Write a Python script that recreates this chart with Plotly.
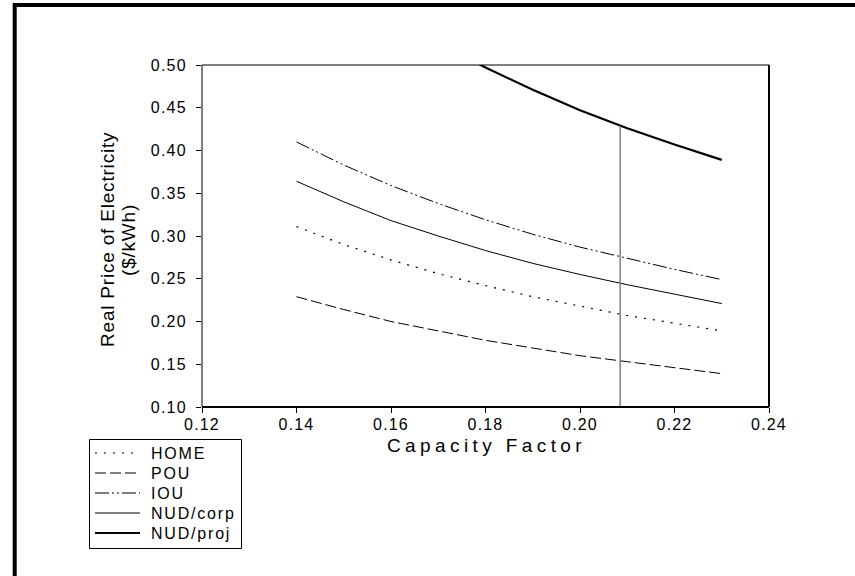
import plotly.graph_objects as go

# ---- data ----
capacity_factor = [0.14, 0.15, 0.16, 0.17, 0.18, 0.19, 0.20, 0.21, 0.22, 0.23]
home = [0.311, 0.290, 0.272, 0.256, 0.242, 0.229, 0.218, 0.207, 0.198, 0.189]
pou = [0.229, 0.214, 0.200, 0.189, 0.178, 0.169, 0.160, 0.153, 0.146, 0.139]
iou = [0.410, 0.383, 0.359, 0.338, 0.319, 0.302, 0.287, 0.274, 0.261, 0.249]
nud_corp = [0.364, 0.340, 0.318, 0.300, 0.283, 0.268, 0.255, 0.243, 0.232, 0.221]
nud_proj = [0.639, 0.597, 0.559, 0.526, 0.497, 0.471, 0.447, 0.426, 0.407, 0.389]
marker_cf = [0.2085, 0.2085]
marker_price = [0.10, 0.429]

series_names = ["HOME", "POU", "IOU", "NUD/corp", "NUD/proj"]
x_ticks = [0.12, 0.14, 0.16, 0.18, 0.20, 0.22, 0.24]
y_ticks = [0.10, 0.15, 0.20, 0.25, 0.30, 0.35, 0.40, 0.45, 0.50]
x_title = "Capacity Factor"
y_title = ["Real Price of Electricity", "($/kWh)"]

FONT = "Liberation Sans, Arial, sans-serif"


def spaced(s, ls):
    return f'<span style="letter-spacing:{ls}px">{s}</span>'


fig = go.Figure()
styles = [
    ("2px,7px", 1.2),
    ("11px,4px", 1.0),
    ("14px,3px,2px,3px,2px,3px", 1.0),
    ("solid", 1.0),
    ("solid", 2.2),
]
for name, vals, (dash, w) in zip(series_names, [home, pou, iou, nud_corp, nud_proj], styles):
    fig.add_trace(go.Scatter(x=capacity_factor, y=vals, mode="lines", name=name, showlegend=False,
                             line=dict(color="black", width=w, dash=dash)))

fig.add_trace(go.Scatter(x=marker_cf, y=marker_price, mode="lines", showlegend=False,
                         line=dict(color="#7f7f7f", width=1.5), hoverinfo="skip"))

W, H = 855, 576
L, R, T, B = 202, 769, 65, 407
pw, ph = R - L, B - T


def px(xp):
    return (xp - L) / pw


def py(yp):
    return 1 - (yp - T) / ph


shapes = [
    dict(type="rect", xref="paper", yref="paper", x0=px(14.7), x1=px(1000), y0=py(800), y1=py(5),
         line=dict(color="black", width=4), layer="above"),
    dict(type="rect", xref="paper", yref="paper", x0=0, x1=1, y0=0, y1=1,
         line=dict(color="black", width=1), layer="above"),
    dict(type="line", xref="paper", yref="paper", x0=1, x1=1, y0=0, y1=1,
         line=dict(color="black", width=2), layer="above"),
    dict(type="line", xref="paper", yref="paper", x0=0, x1=1, y0=0, y1=0,
         line=dict(color="black", width=2), layer="above"),
    # legend box
    dict(type="rect", xref="paper", yref="paper", x0=px(89.5), x1=px(241.5), y0=py(548.5), y1=py(439.5),
         line=dict(color="black", width=1), fillcolor="white", layer="above"),
]
annotations = []
row_y = [453, 473, 493, 513, 533]
for (name, (dash, w), ry) in zip(series_names, styles, row_y):
    shapes.append(dict(type="line", xref="paper", yref="paper", x0=px(95), x1=px(140),
                       y0=py(ry), y1=py(ry), line=dict(color="black", width=w, dash=dash),
                       layer="above"))
    annotations.append(dict(xref="paper", yref="paper", x=px(149), y=py(ry), xanchor="left",
                            yanchor="middle", showarrow=False, text=spaced(name, 1.8),
                            font=dict(family=FONT, size=16, color="black")))

# axis titles
annotations.append(dict(xref="paper", yref="paper", x=px(486), y=py(445), xanchor="center",
                        yanchor="middle", showarrow=False, text=spaced(x_title, 4.4),
                        font=dict(family=FONT, size=19, color="black")))
for t, cx in zip(y_title, [107, 128]):
    annotations.append(dict(xref="paper", yref="paper", x=px(cx), y=py(240), xanchor="center",
                            yanchor="middle", showarrow=False, textangle=-90, text=spaced(t, 0.8),
                            font=dict(family=FONT, size=19, color="black")))

fig.update_layout(
    width=W, height=H,
    margin=dict(l=L, r=W - R, t=T, b=H - B),
    paper_bgcolor="white", plot_bgcolor="white",
    font=dict(family=FONT, color="black", size=16),
    shapes=shapes,
    annotations=annotations,
    showlegend=False,
    xaxis=dict(range=[0.12, 0.24], tickvals=x_ticks,
               ticktext=[spaced(f"{v:.2f}", 1.2) for v in x_ticks],
               showgrid=False, zeroline=False, showline=False,
               ticks="outside", ticklen=5, tickwidth=1, tickcolor="black",
               tickfont=dict(size=16), ticklabelstandoff=-2),
    yaxis=dict(range=[0.10, 0.50], tickvals=y_ticks,
               ticktext=[spaced(f"{v:.2f}", 1.2) for v in y_ticks],
               showgrid=False, zeroline=False, showline=False,
               ticks="outside", ticklen=5, tickwidth=1, tickcolor="black",
               tickfont=dict(size=16), ticklabelstandoff=6),
)

fig.write_html("out.html")
